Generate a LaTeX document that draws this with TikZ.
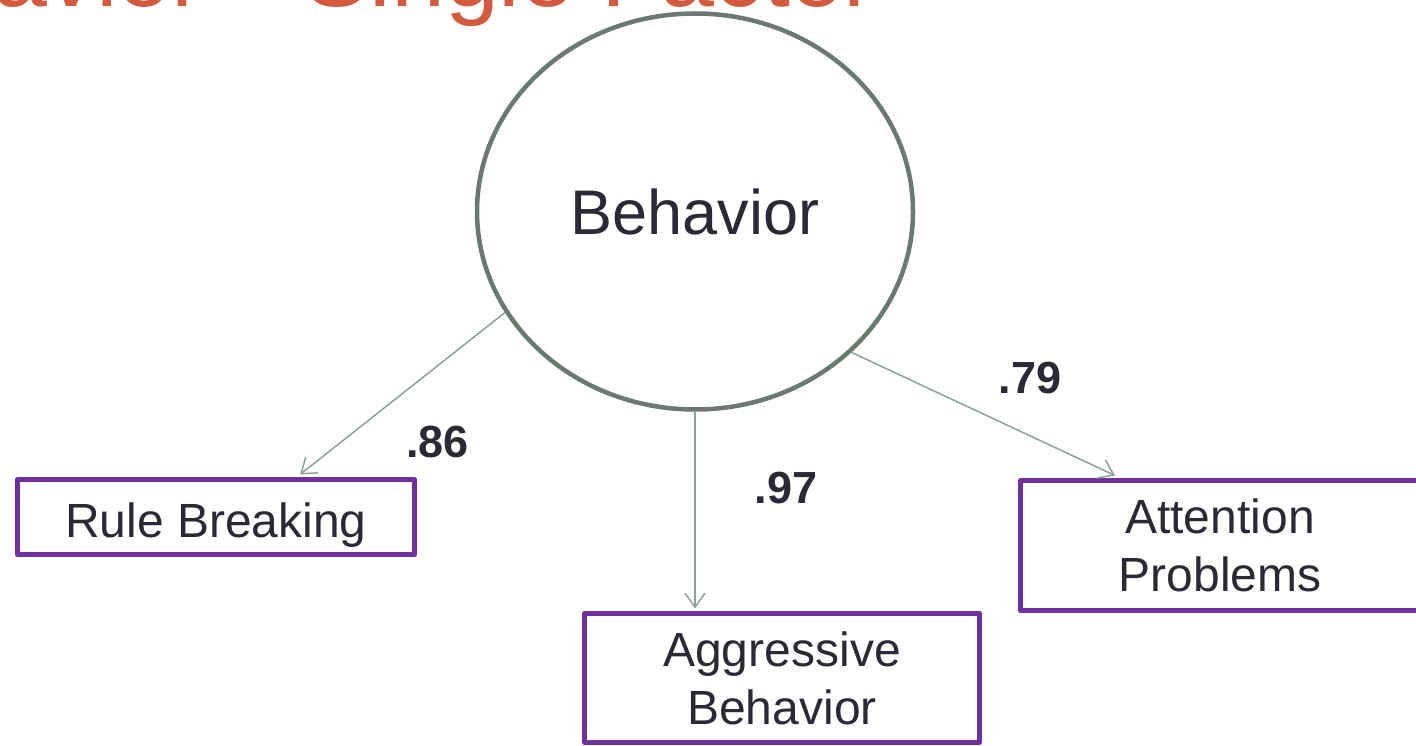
\documentclass[tikz,border=0pt]{standalone}
\usepackage{fontspec}
\setmainfont{Liberation Sans}
\usetikzlibrary{arrows.meta,shapes.geometric}
\definecolor{titlered}{HTML}{D35A3F}
\definecolor{circgray}{HTML}{6B7A71}
\definecolor{arrowgray}{HTML}{8DA197}
\definecolor{boxpurple}{HTML}{7030A0}
\definecolor{txt}{HTML}{2A2935}
\begin{document}
\begin{tikzpicture}[x=1pt,y=-1pt,
  titlestyle/.style={text=titlered, font=\fontsize{97}{116}\selectfont, inner sep=0pt},
  latent/.style={draw=circgray, line width=4.5pt, ellipse, minimum width=436pt, minimum height=396pt, inner sep=0pt, text=txt, font=\fontsize{63}{76}\selectfont},
  obsbox/.style={draw=boxpurple, line width=5pt, line join=round, rectangle, inner sep=0pt, align=center, text=txt, font=\fontsize{48}{58}\selectfont},
  loadarrow/.style={draw=arrowgray, line width=1.5pt, -{Straight Barb[length=14pt,width=20pt]}},
  loadlabel/.style={text=txt, font=\fontsize{45}{54}\selectfont\bfseries, anchor=base, inner sep=0pt}
]
\useasboundingbox (0,0) rectangle (1416,746);
\clip (0,0) rectangle (1416,746);
\fill[white] (0,0) rectangle (1416,746);

\node[titlestyle, anchor=base west] (title) at (-179,7) {Behavior \hspace{74pt}Single Factor};

\node[latent] (beh) at (695,211.5) {Behavior};

\node[obsbox, minimum width=397pt, minimum height=75pt, text height=40pt, text depth=0pt] (rb) at (216,517) {Rule Breaking};
\node[obsbox, minimum width=395pt, minimum height=129pt] (agg) at (782,678) {Aggressive\\Behavior};
\node[obsbox, minimum width=399pt, minimum height=130pt] (att) at (1220,545.5) {Attention\\Problems};

\draw[loadarrow] (beh.208) -- ([xshift=84pt,yshift=2.5pt]rb.north);
\draw[loadarrow] (beh.south) -- ([xshift=-87pt,yshift=2.5pt]agg.north);
\draw[loadarrow] (beh.318) -- ([xshift=-105pt,yshift=2.5pt]att.north);

\node[loadlabel] (l86) at (437.5,457) {.86};
\node[loadlabel] (l97) at (786,503) {.97};
\node[loadlabel] (l79) at (1030,393) {.79};
\end{tikzpicture}
\end{document}
